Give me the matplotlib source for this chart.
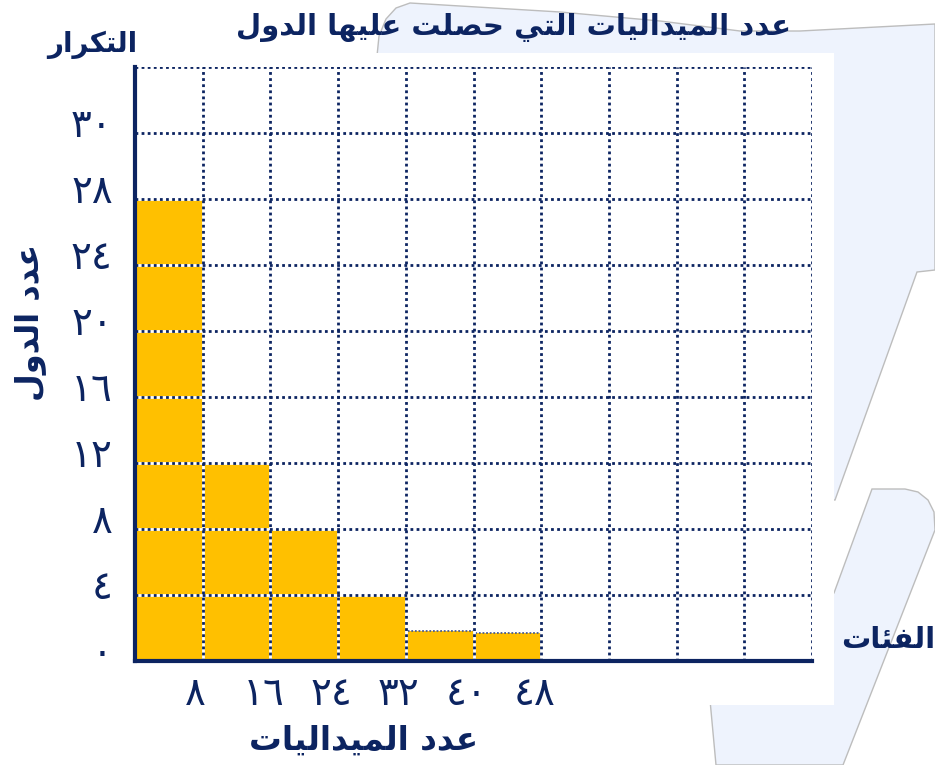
import matplotlib
matplotlib.use("Agg")
import matplotlib.pyplot as plt
from matplotlib.patches import Polygon, Rectangle
import matplotlib.transforms as mtransforms

plt.rcParams['font.family'] = ['DejaVu Sans']

# data
bin_edges = [0, 8, 16, 24, 32, 40]
bin_width = 8
counts = [28, 12, 8, 4, 1.8, 1.7]
x_grid = list(range(0, 81, 8))
y_grid = list(range(0, 37, 4))
x_labels = ['', '٨', '١٦', '٢٤', '٣٢', '٤٠', '٤٨', '', '', '', '']
y_labels = ['٠', '٤', '٨', '١٢', '١٦', '٢٠', '٢٤', '٢٨', '٣٠', '']

title = 'عدد الميداليات التي حصلت عليها الدول'
x_title = 'عدد الميداليات'
y_title = 'عدد الدول'
y_top_title = 'التكرار'
x_end_title = 'الفئات'

navy = '#0c2461'
gold = '#FFC000'
lavender = '#EEF3FD'

# isolated, final, initial, medial
FORMS = {
    'ئ': ('\uFE89', '\uFE8A', '\uFE8B', '\uFE8C'),
    'ا': ('\uFE8D', '\uFE8E', None, None),
    'ت': ('\uFE95', '\uFE96', '\uFE97', '\uFE98'),
    'ح': ('\uFEA1', '\uFEA2', '\uFEA3', '\uFEA4'),
    'د': ('\uFEA9', '\uFEAA', None, None),
    'ر': ('\uFEAD', '\uFEAE', None, None),
    'ص': ('\uFEB9', '\uFEBA', '\uFEBB', '\uFEBC'),
    'ع': ('\uFEC9', '\uFECA', '\uFECB', '\uFECC'),
    'ف': ('\uFED1', '\uFED2', '\uFED3', '\uFED4'),
    'ك': ('\uFED9', '\uFEDA', '\uFEDB', '\uFEDC'),
    'ل': ('\uFEDD', '\uFEDE', '\uFEDF', '\uFEE0'),
    'م': ('\uFEE1', '\uFEE2', '\uFEE3', '\uFEE4'),
    'ه': ('\uFEE9', '\uFEEA', '\uFEEB', '\uFEEC'),
    'و': ('\uFEED', '\uFEEE', None, None),
    'ي': ('\uFEF1', '\uFEF2', '\uFEF3', '\uFEF4'),
}


def shape(text):
    # contextual forms + right-to-left order, since matplotlib has no shaping
    out = []
    i = 0
    while i < len(text):
        c = text[i]
        if c not in FORMS:
            out.append(c)
            i += 1
            continue
        prev = text[i-1] if i > 0 else None
        joins_prev = prev in FORMS and FORMS[prev][2] is not None
        if c == 'ل' and i+1 < len(text) and text[i+1] == 'ا':
            out.append('\uFEFC' if joins_prev else '\uFEFB')
            i += 2
            continue
        nxt = text[i+1] if i+1 < len(text) else None
        joins_next = FORMS[c][2] is not None and nxt in FORMS
        iso, fin, ini, med = FORMS[c]
        if joins_prev and joins_next:
            out.append(med)
        elif joins_prev:
            out.append(fin)
        elif joins_next:
            out.append(ini)
        else:
            out.append(iso)
        i += 1
    return ''.join(reversed(out))


W, H = 935, 765
fig = plt.figure(figsize=(W/100, H/100), dpi=100)

# decorative background shapes (pixel coords)
bg = fig.add_axes([0, 0, 1, 1], zorder=-1)
bg.set_xlim(0, W)
bg.set_ylim(H, 0)
bg.axis('off')
shape_a = [(377, 56), (379, 36), (386, 19), (396, 8), (410, 3), (560, 12), (660, 21),
           (740, 31), (800, 31), (935, 24), (935, 270), (917, 272), (835, 500),
           (700, 500), (377, 200)]
shape_b = [(872, 489), (905, 489), (918, 492), (928, 500), (934, 512), (935, 530),
           (843, 765), (716, 765), (710, 700), (834, 593)]
for pts in (shape_a, shape_b):
    bg.add_patch(Polygon(pts, closed=True, facecolor=lavender, edgecolor='#bdbdbd', lw=1))
bg.add_patch(Rectangle((0, 53), 834, 652, facecolor='white', edgecolor='none'))

ax = fig.add_axes([135/W, 1-661/H, (812-135)/W, (661-67)/H])
ax.set_xlim(0, 80)
ax.set_ylim(0, 36)

bars = ax.bar(bin_edges, counts, width=bin_width, align='edge', color=gold,
              edgecolor='none', zorder=1)
for b in bars[4:]:
    b.set_edgecolor('#4a5d8f')
    b.set_linestyle((0, (1, 1)))
    b.set_linewidth(1.3)

# white under the dotted grid so it shows over the bars
ax.hlines(y_grid, 0, 80, color='white', lw=2, zorder=1.5)
ax.vlines(x_grid, 0, 36, color='white', lw=2, zorder=1.5)
ax.hlines(y_grid, 0, 80, color=navy, lw=2, linestyles=[(0, (1, 1.2))], zorder=2)
ax.vlines(x_grid, 0, 36, color=navy, lw=2, linestyles=[(0, (1, 1.2))], zorder=2)

for s in ['top', 'right']:
    ax.spines[s].set_visible(False)
for s in ['left', 'bottom']:
    ax.spines[s].set_color(navy)
    ax.spines[s].set_linewidth(3)
    ax.spines[s].set_zorder(3)

ax.set_xticks(x_grid)
ax.set_xticklabels(x_labels)
ax.set_yticks(y_grid)
ax.set_yticklabels(y_labels)
ax.tick_params(length=0, labelsize=28, labelcolor=navy)
ax.tick_params(axis='y', pad=16)
ax.tick_params(axis='x', pad=10)
up = mtransforms.ScaledTranslation(0, 8/72, fig.dpi_scale_trans)
for lab in ax.get_yticklabels():
    lab.set_transform(lab.get_transform() + up)
left = mtransforms.ScaledTranslation(-5/72, 0, fig.dpi_scale_trans)
for lab in ax.get_xticklabels():
    lab.set_transform(lab.get_transform() + left)

txt = dict(color=navy, fontweight='bold', ha='center', va='center')
fig.text(514/W, 1-28/H, shape(title), fontsize=21, **txt)
fig.text(92/W, 1-45/H, shape(y_top_title), fontsize=20, **txt)
fig.text(30/W, 1-322/H, shape(y_title), fontsize=23, rotation=90, **txt)
fig.text(364/W, 1-740/H, shape(x_title), fontsize=23.5, **txt)
fig.text(888/W, 1-640/H, shape(x_end_title), fontsize=21, **txt)

fig.savefig('out.png', dpi=100)
